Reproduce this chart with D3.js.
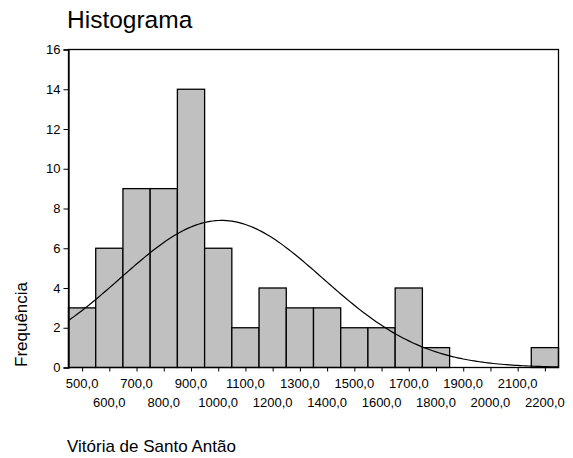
<!DOCTYPE html>
<meta charset="utf-8">
<script src="https://cdn.jsdelivr.net/npm/d3@7"></script>
<style>
  body { margin: 0; background: #fff; }
  text { font-family: "Liberation Sans", Arial, sans-serif; fill: #000; }
</style>
<div id="my_dataviz"></div>
<script>

// bin centres (width 100) and counts
var binCenters = [500, 600, 700, 800, 900, 1000, 1100, 1200, 1300, 1400, 1500, 1600, 1700, 1800, 1900, 2000, 2100, 2200];
var counts     = [3,   6,   9,   9,   14,  6,    2,    4,    3,    3,    2,    2,    4,    1,    0,    0,    0,    1];
var binWidth = 100;
var yTicks = [0, 2, 4, 6, 8, 10, 12, 14, 16];
var xTicks = [500, 600, 700, 800, 900, 1000, 1100, 1200, 1300, 1400, 1500, 1600, 1700, 1800, 1900, 2000, 2100, 2200];

// fitted normal curve parameters
var fitMean = 1012, fitSd = 372;

var width = 573, height = 458;
var font = "'Liberation Sans', Arial, sans-serif";
var svg = d3.select("#my_dataviz").append("svg")
  .attr("width", width)
  .attr("height", height);

var x = d3.scaleLinear().domain([450, 2250]).range([68.5, 558.5]);
var y = d3.scaleLinear().domain([0, 16]).range([367.5, 49.5]);

// title
svg.append("text")
  .attr("x", 67).attr("y", 28)
  .attr("font-size", 24.5)
  .text("Histograma");

// bars
svg.selectAll("bars")
  .data(binCenters)
  .enter()
  .append("rect")
    .filter(function(d, i) { return counts[i] > 0; })
    .attr("x", function(d) { return x(d - binWidth / 2); })
    .attr("y", function(d) { return y(counts[binCenters.indexOf(d)]); })
    .attr("width", function(d) { return x(d + binWidth / 2) - x(d - binWidth / 2); })
    .attr("height", function(d) { return y(0) - y(counts[binCenters.indexOf(d)]); })
    .style("fill", "#c0c0c0")
    .attr("stroke", "#000")
    .attr("stroke-width", 1.3);

// normal curve
var N = d3.sum(counts);
function normal(v) {
  var z = (v - fitMean) / fitSd;
  return N * binWidth / (fitSd * Math.sqrt(2 * Math.PI)) * Math.exp(-0.5 * z * z);
}
var curveX = d3.range(450, 2251, 10);
svg.append("path")
  .datum(curveX)
  .attr("fill", "none")
  .attr("stroke", "#000")
  .attr("stroke-width", 1.2)
  .attr("d", d3.line().x(function(d) { return x(d); }).y(function(d) { return y(normal(d)); }));

// frame
svg.append("rect")
  .attr("x", x(450)).attr("y", y(16))
  .attr("width", x(2250) - x(450)).attr("height", y(0) - y(16))
  .attr("fill", "none")
  .attr("stroke", "#000")
  .attr("stroke-width", 1.3);

// y axis
var yAxis = svg.append("g")
  .attr("transform", "translate(" + x(450) + ",0)")
  .call(d3.axisLeft(y).tickValues(yTicks).tickSize(5).tickPadding(3).tickFormat(d3.format("d")));
yAxis.select(".domain").attr("stroke-width", 1.3);
yAxis.selectAll("text").attr("font-size", 13).style("font-family", font);

// x axis, labels on two alternating rows
var xAxis = svg.append("g")
  .attr("transform", "translate(0," + y(0) + ")")
  .call(d3.axisBottom(x).tickValues(xTicks).tickSize(4).tickFormat(""));
xAxis.select(".domain").remove();

svg.selectAll("xlabels")
  .data(xTicks)
  .enter()
  .append("text")
    .attr("x", function(d) { return x(d); })
    .attr("y", function(d, i) { return i % 2 === 0 ? 388 : 407; })
    .attr("text-anchor", "middle")
    .attr("font-size", 13)
    .text(function(d) { return d.toFixed(1).replace(".", ","); });

// axis titles
svg.append("text")
  .attr("transform", "translate(27,367) rotate(-90)")
  .attr("font-size", 17)
  .text("Frequência");

svg.append("text")
  .attr("x", 67).attr("y", 452)
  .attr("font-size", 17)
  .text("Vitória de Santo Antão");

</script>
